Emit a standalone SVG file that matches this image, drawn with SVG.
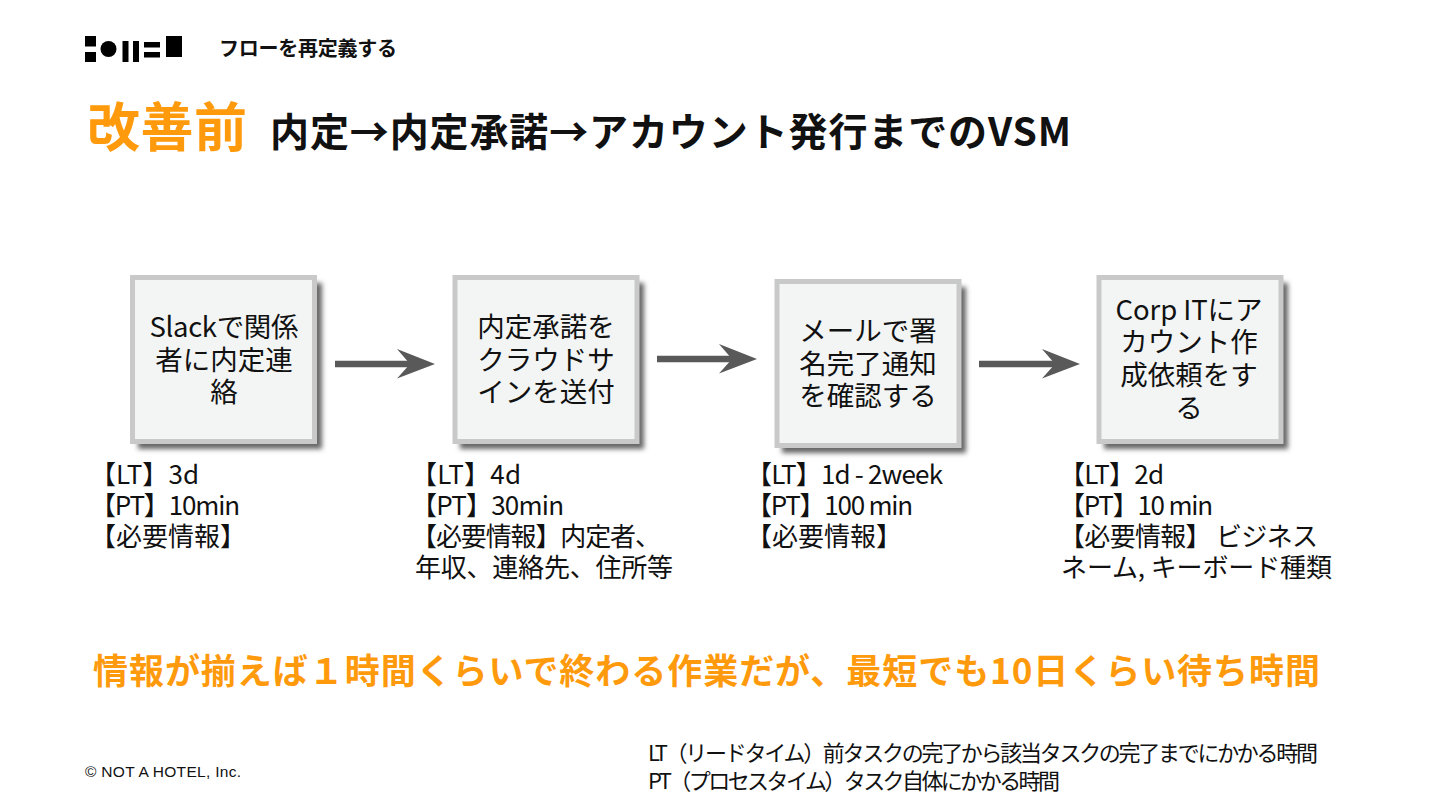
<svg xmlns="http://www.w3.org/2000/svg" width="1440" height="810" viewBox="0 0 1440 810">
<defs>
<style>
text{font-family:"Noto Sans CJK JP","Noto Sans",sans-serif;fill:#111}
.b{font-size:27.500px;text-anchor:middle}
.d{font-size:26px}
.box{fill:#f3f5f5;stroke:#c9c9c9;stroke-width:5}
.sh{fill:#666;filter:url(#blur)}
.a{stroke:#595959;stroke-width:6.500;fill:none;marker-end:url(#arr)}
.n{font-size:22px}
</style>
<filter id="blur" x="-10%" y="-10%" width="120%" height="120%"><feGaussianBlur stdDeviation="2.500"/></filter>
<marker id="arr" markerUnits="userSpaceOnUse" markerWidth="40" markerHeight="30" refX="26" refY="15" orient="auto"><path d="M0 0L38 15L0 29.500L13 15Z" fill="#595959"/></marker>
</defs>
<rect width="1440" height="810" fill="#fff"/>
<g id="logo" fill="#000">
<rect x="85" y="36" width="11" height="10.500"/><rect x="85" y="52" width="11" height="10"/>
<circle cx="108.500" cy="49" r="8"/>
<rect x="122.500" y="41" width="6" height="21"/><rect x="133" y="41" width="6" height="21"/>
<rect x="144" y="42" width="16" height="5.500"/><rect x="144" y="52" width="16" height="5.500"/>
<rect x="166" y="36" width="16" height="21"/>
</g>
<text id="header" x="219" y="56" font-size="20" font-weight="700" textLength="178">フローを再定義する</text>
<g id="title">
<text x="87" y="147" font-size="53" font-weight="700" style="fill:#ff9a0d" textLength="160">改善前</text>
<text x="270" y="146" font-size="39" font-weight="700" textLength="801">内定→内定承諾→アカウント発行までのVSM</text>
</g>
<g id="connectors">
<line class="a" x1="335" y1="364" x2="423" y2="364"/>
<line class="a" x1="657" y1="359" x2="745" y2="359"/>
<line class="a" x1="979" y1="364" x2="1068" y2="364"/>
</g>
<g id="node1">
<rect class="sh" x="138" y="283" width="184" height="166"/>
<rect class="box" x="132.500" y="277.500" width="182" height="164"/>
<text class="b" x="224" y="337" textLength="149">Slackで関係</text><text class="b" x="224" y="370">者に内定連</text><text class="b" x="224" y="402">絡</text>
</g>
<g id="node2">
<rect class="sh" x="460" y="283" width="184" height="166"/>
<rect class="box" x="455" y="277.500" width="182" height="164"/>
<text class="b" x="546" y="337">内定承諾を</text><text class="b" x="546" y="370">クラウドサ</text><text class="b" x="546" y="402">インを送付</text>
</g>
<g id="node3">
<rect class="sh" x="782" y="287" width="184" height="166"/>
<rect class="box" x="777" y="281.500" width="182" height="164"/>
<text class="b" x="868" y="341">メールで署</text><text class="b" x="868" y="374">名完了通知</text><text class="b" x="868" y="406">を確認する</text>
</g>
<g id="node4">
<rect class="sh" x="1104" y="283" width="184" height="166"/>
<rect class="box" x="1099" y="277.500" width="182" height="164"/>
<text class="b" x="1189" y="320" textLength="147">Corp ITにア</text><text class="b" x="1189" y="352">カウント作</text><text class="b" x="1189" y="385">成依頼をす</text><text class="b" x="1189" y="418">る</text>
</g>
<g id="detail1">
<text class="d" x="90" y="484" textLength="109">【LT】3d</text><text class="d" x="90" y="515" textLength="150">【PT】10min</text><text class="d" x="90" y="546">【必要情報】</text>
</g>
<g id="detail2">
<text class="d" x="411" y="484" textLength="110">【LT】4d</text><text class="d" x="411" y="515" textLength="153">【PT】30min</text><text class="d" x="411" y="546" textLength="250">【必要情報】内定者、</text><text class="d" x="415" y="577" textLength="258">年収、連絡先、住所等</text>
</g>
<g id="detail3">
<text class="d" x="746" y="484" textLength="197">【LT】1d - 2week</text><text class="d" x="746" y="515" textLength="167">【PT】100 min</text><text class="d" x="746" y="546">【必要情報】</text>
</g>
<g id="detail4">
<text class="d" x="1059" y="484" textLength="105">【LT】2d</text><text class="d" x="1059" y="515" textLength="154">【PT】10 min</text><text class="d" x="1059" y="546" textLength="259">【必要情報】 ビジネス</text><text class="d" x="1061" y="577" textLength="271">ネーム, キーボード種類</text>
</g>
<text id="summary" x="93" y="684" font-size="35" font-weight="700" style="fill:#ff9a0d" textLength="1227">情報が揃えば１時間くらいで終わる作業だが、最短でも10日くらい待ち時間</text>
<text id="copyright" x="85" y="777" font-size="15.500" style="font-family:'Liberation Sans',sans-serif" textLength="156">© NOT A HOTEL, Inc.</text>
<g id="notes">
<text class="n" x="648" y="761" textLength="670">LT（リードタイム）前タスクの完了から該当タスクの完了までにかかる時間</text>
<text class="n" x="648" y="789" textLength="412">PT（プロセスタイム）タスク自体にかかる時間</text>
</g>
</svg>
